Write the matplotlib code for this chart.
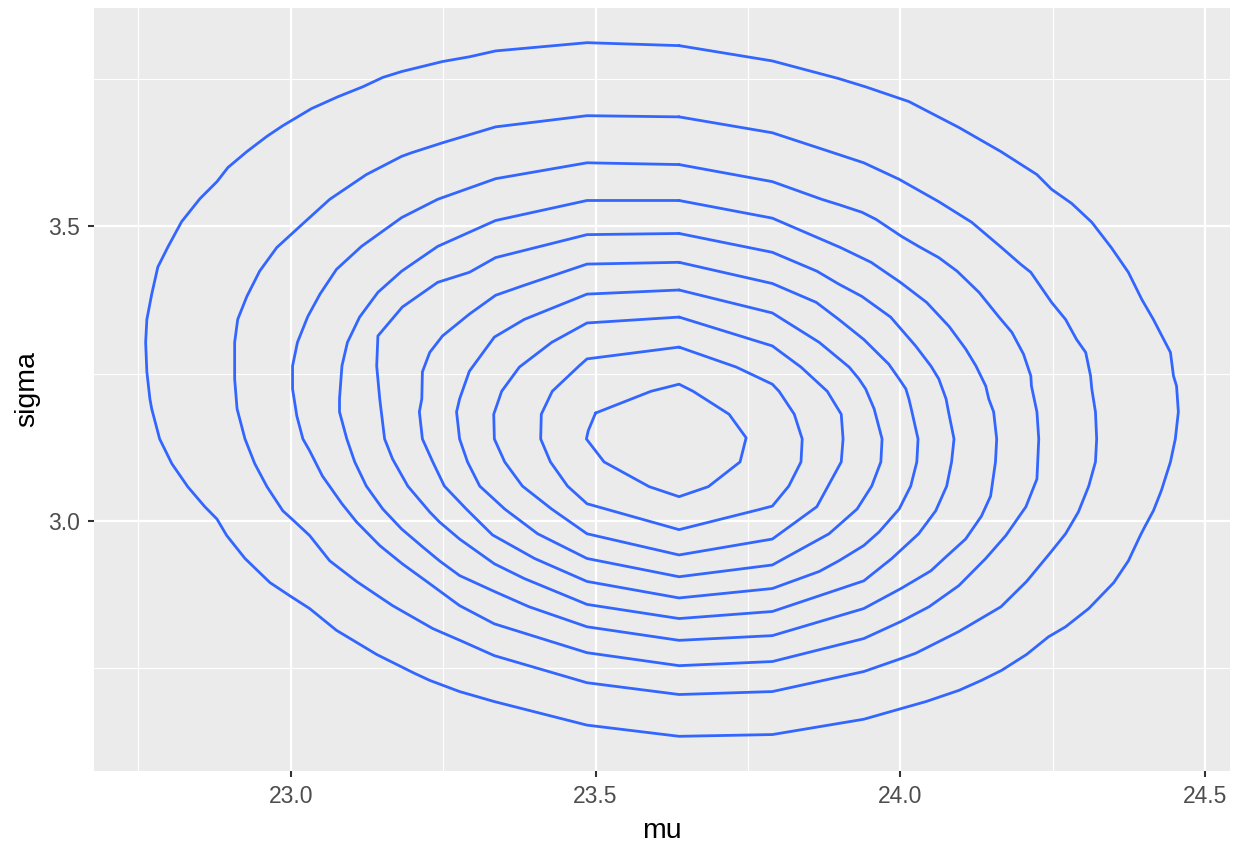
import matplotlib
matplotlib.use("Agg")
import matplotlib.pyplot as plt

# contour lines of the (mu, sigma) density, outermost first
c1 = [(23.637,3.807),(23.486,3.812),(23.336,3.798),(23.293,3.788),(23.249,3.780),(23.182,3.763),
      (23.151,3.753),(23.118,3.737),(23.077,3.720),(23.034,3.700),(22.987,3.671),(22.961,3.653),
      (22.928,3.627),(22.897,3.600),(22.879,3.576),(22.851,3.547),(22.821,3.508),(22.799,3.466),
      (22.782,3.431),(22.772,3.385),(22.764,3.342),(22.762,3.303),(22.764,3.253),(22.769,3.207),
      (22.772,3.190),(22.785,3.139),(22.805,3.097),(22.831,3.058),(22.859,3.024),(22.879,3.003),
      (22.895,2.975),(22.925,2.936),(22.966,2.895),(22.998,2.873),(23.031,2.851),(23.075,2.814),
      (23.141,2.773),(23.203,2.741),(23.228,2.729),(23.277,2.710),(23.334,2.693),(23.486,2.653),
      (23.637,2.634),(23.790,2.637),(23.940,2.663),(24.001,2.681),(24.042,2.693),(24.096,2.712),
      (24.133,2.729),(24.166,2.746),(24.207,2.773),(24.243,2.803),(24.271,2.820),(24.309,2.851),
      (24.350,2.895),(24.374,2.932),(24.394,2.976),(24.402,2.992),(24.415,3.017),(24.428,3.051),
      (24.443,3.100),(24.451,3.139),(24.456,3.185),(24.453,3.229),(24.448,3.246),(24.443,3.286),
      (24.432,3.308),(24.415,3.342),(24.396,3.376),(24.374,3.422),(24.346,3.464),(24.314,3.507),
      (24.281,3.539),(24.248,3.563),(24.224,3.588),(24.165,3.627),(24.096,3.668),(24.014,3.712),
      (23.943,3.737),(23.899,3.751),(23.790,3.781)]
c2 = [(23.637,3.686),(23.486,3.688),(23.336,3.669),(23.249,3.642),(23.198,3.625),(23.182,3.619),
      (23.124,3.588),(23.064,3.546),(23.015,3.500),(22.977,3.464),(22.949,3.424),(22.928,3.381),
      (22.913,3.342),(22.908,3.303),(22.908,3.263),(22.908,3.241),(22.912,3.190),(22.925,3.139),
      (22.941,3.097),(22.961,3.058),(22.987,3.017),(23.002,3.003),(23.031,2.975),(23.064,2.932),
      (23.108,2.897),(23.167,2.856),(23.233,2.817),(23.282,2.795),(23.334,2.771),(23.486,2.725),
      (23.637,2.705),(23.790,2.710),(23.940,2.744),(24.001,2.766),(24.025,2.775),(24.096,2.812),
      (24.165,2.854),(24.207,2.897),(24.247,2.947),(24.271,2.978),(24.292,3.015),(24.309,3.059),
      (24.320,3.100),(24.322,3.139),(24.320,3.185),(24.314,3.224),(24.312,3.246),(24.304,3.286),
      (24.289,3.308),(24.271,3.342),(24.248,3.371),(24.214,3.422),(24.197,3.436),(24.166,3.464),
      (24.117,3.507),(24.063,3.542),(23.998,3.580),(23.940,3.608),(23.899,3.622),(23.790,3.659)]
c3 = [(23.637,3.605),(23.486,3.608),(23.336,3.581),(23.241,3.546),(23.182,3.515),(23.116,3.466),
      (23.075,3.427),(23.048,3.385),(23.028,3.347),(23.011,3.303),(23.003,3.263),(23.003,3.224),
      (23.010,3.178),(23.020,3.139),(23.031,3.119),(23.052,3.076),(23.084,3.029),(23.108,2.998),
      (23.146,2.958),(23.183,2.927),(23.223,2.897),(23.277,2.856),(23.334,2.825),(23.486,2.776),
      (23.637,2.754),(23.790,2.761),(23.940,2.800),(24.001,2.829),(24.047,2.854),(24.096,2.890),
      (24.140,2.936),(24.173,2.975),(24.206,3.024),(24.224,3.071),(24.227,3.139),(24.224,3.185),
      (24.215,3.229),(24.214,3.246),(24.202,3.283),(24.183,3.320),(24.161,3.347),(24.129,3.388),
      (24.093,3.424),(24.063,3.447),(24.030,3.466),(24.002,3.483),(23.960,3.512),(23.937,3.524),
      (23.899,3.537),(23.871,3.546),(23.790,3.576)]
c4 = [(23.637,3.544),(23.486,3.544),(23.336,3.510),(23.241,3.466),(23.182,3.424),(23.143,3.388),
      (23.113,3.346),(23.093,3.303),(23.084,3.263),(23.080,3.207),(23.080,3.185),(23.092,3.139),
      (23.105,3.100),(23.124,3.059),(23.151,3.020),(23.182,2.986),(23.216,2.956),(23.244,2.932),
      (23.277,2.907),(23.334,2.880),(23.391,2.854),(23.486,2.820),(23.637,2.797),(23.790,2.805),
      (23.940,2.851),(24.001,2.885),(24.050,2.915),(24.075,2.939),(24.107,2.969),(24.133,3.008),
      (24.148,3.042),(24.156,3.100),(24.158,3.139),(24.153,3.185),(24.145,3.207),(24.140,3.229),
      (24.124,3.263),(24.107,3.292),(24.080,3.330),(24.043,3.371),(24.000,3.405),(23.952,3.439),
      (23.902,3.464),(23.790,3.514)]
c5 = [(23.637,3.488),(23.486,3.486),(23.336,3.447),(23.293,3.422),(23.241,3.405),(23.183,3.363),
      (23.143,3.314),(23.141,3.263),(23.146,3.207),(23.154,3.139),(23.167,3.105),(23.192,3.059),
      (23.228,3.015),(23.244,2.998),(23.277,2.969),(23.334,2.927),(23.383,2.902),(23.486,2.858),
      (23.637,2.834),(23.790,2.846),(23.940,2.898),(23.986,2.936),(24.030,2.978),(24.058,3.017),
      (24.076,3.059),(24.084,3.100),(24.088,3.139),(24.079,3.185),(24.075,3.207),(24.063,3.241),
      (24.050,3.263),(24.025,3.297),(23.984,3.346),(23.937,3.381),(23.899,3.402),(23.863,3.424),
      (23.790,3.456)]
c6 = [(23.637,3.439),(23.486,3.436),(23.383,3.400),(23.336,3.383),(23.293,3.351),(23.249,3.314),
      (23.228,3.286),(23.216,3.253),(23.215,3.207),(23.211,3.185),(23.216,3.139),(23.233,3.100),
      (23.252,3.059),(23.288,3.020),(23.331,2.976),(23.400,2.936),(23.486,2.897),(23.637,2.869),
      (23.790,2.885),(23.867,2.914),(23.899,2.932),(23.940,2.958),(23.965,2.981),(23.998,3.020),
      (24.017,3.059),(24.027,3.100),(24.029,3.139),(24.019,3.185),(24.014,3.207),(24.009,3.224),
      (23.998,3.241),(23.981,3.266),(23.940,3.308),(23.899,3.342),(23.862,3.371),(23.790,3.403)]
c7 = [(23.637,3.392),(23.486,3.385),(23.383,3.342),(23.334,3.312),(23.293,3.254),(23.277,3.207),
      (23.272,3.185),(23.277,3.139),(23.290,3.100),(23.310,3.059),(23.351,3.020),(23.405,2.978),
      (23.486,2.936),(23.637,2.905),(23.790,2.925),(23.883,2.978),(23.929,3.020),(23.953,3.059),
      (23.968,3.100),(23.970,3.139),(23.957,3.190),(23.943,3.224),(23.932,3.241),(23.916,3.261),
      (23.867,3.303),(23.790,3.353)]
c8 = [(23.637,3.346),(23.486,3.336),(23.428,3.303),(23.375,3.261),(23.346,3.220),(23.333,3.181),
      (23.334,3.139),(23.351,3.100),(23.380,3.059),(23.428,3.020),(23.486,2.978),(23.637,2.942),
      (23.790,2.969),(23.863,3.024),(23.903,3.100),(23.906,3.139),(23.903,3.181),(23.880,3.220),
      (23.837,3.261),(23.790,3.297)]
c9 = [(23.637,3.295),(23.486,3.275),(23.473,3.263),(23.429,3.220),(23.411,3.181),(23.410,3.139),
      (23.426,3.100),(23.454,3.059),(23.486,3.029),(23.637,2.985),(23.768,3.019),(23.790,3.025),
      (23.817,3.059),(23.837,3.100),(23.839,3.139),(23.826,3.181),(23.801,3.220),(23.790,3.232),
      (23.731,3.261)]
c10 = [(23.500,3.183),(23.591,3.220),(23.637,3.232),(23.660,3.220),(23.719,3.181),(23.747,3.141),
       (23.737,3.100),(23.685,3.058),(23.637,3.041),(23.588,3.058),(23.514,3.100),(23.485,3.139),
       (23.488,3.153)]
contours = [c1, c2, c3, c4, c5, c6, c7, c8, c9, c10]

x_ticks = [23.0, 23.5, 24.0, 24.5]
x_minor = [22.75, 23.25, 23.75, 24.25]
y_ticks = [3.0, 3.5]
y_minor = [2.75, 3.25, 3.75]

plt.rcParams['font.family'] = ['Liberation Sans', 'DejaVu Sans']

fig = plt.figure(figsize=(12.39, 8.43), dpi=100)
ax = fig.add_axes([94/1239, 1-771/843, (1230-94)/1239, (771-8)/843])
ax.set_facecolor('#EBEBEB')

for c in contours:
    xs_c = [p[0] for p in c] + [c[0][0]]
    ys_c = [p[1] for p in c] + [c[0][1]]
    ax.plot(xs_c, ys_c, color='#3366FF', lw=2.0, solid_joinstyle='round',
            solid_capstyle='round', zorder=3)

# ggplot style 5% expansion
xs = [p[0] for c in contours for p in c]
ys = [p[1] for c in contours for p in c]
dx = (max(xs) - min(xs)) * 0.05
dy = (max(ys) - min(ys)) * 0.05
ax.set_xlim(min(xs) - dx, max(xs) + dx)
ax.set_ylim(min(ys) - dy, max(ys) + dy)

ax.set_xticks(x_ticks)
ax.set_xticklabels(['%.1f' % v for v in x_ticks])
ax.set_yticks(y_ticks)
ax.set_yticklabels(['%.1f' % v for v in y_ticks])
ax.set_xticks(x_minor, minor=True)
ax.set_yticks(y_minor, minor=True)
ax.grid(which='major', color='white', lw=1.6, zorder=0)
ax.grid(which='minor', color='white', lw=0.8, zorder=0)
ax.set_axisbelow(True)
ax.tick_params(which='major', length=4.3, width=1.5, color='#333333',
               labelcolor='#4D4D4D', labelsize=16.5)
ax.tick_params(axis='x', which='major', pad=6)
ax.tick_params(axis='y', which='major', pad=5.5)
ax.tick_params(which='minor', length=0)
for s in ax.spines.values():
    s.set_visible(False)

ax.set_xlabel('mu', fontsize=20.5, color='black', labelpad=7)
ax.set_ylabel('sigma', fontsize=20.5, color='black', labelpad=6)

fig.savefig('out.png', dpi=100)
